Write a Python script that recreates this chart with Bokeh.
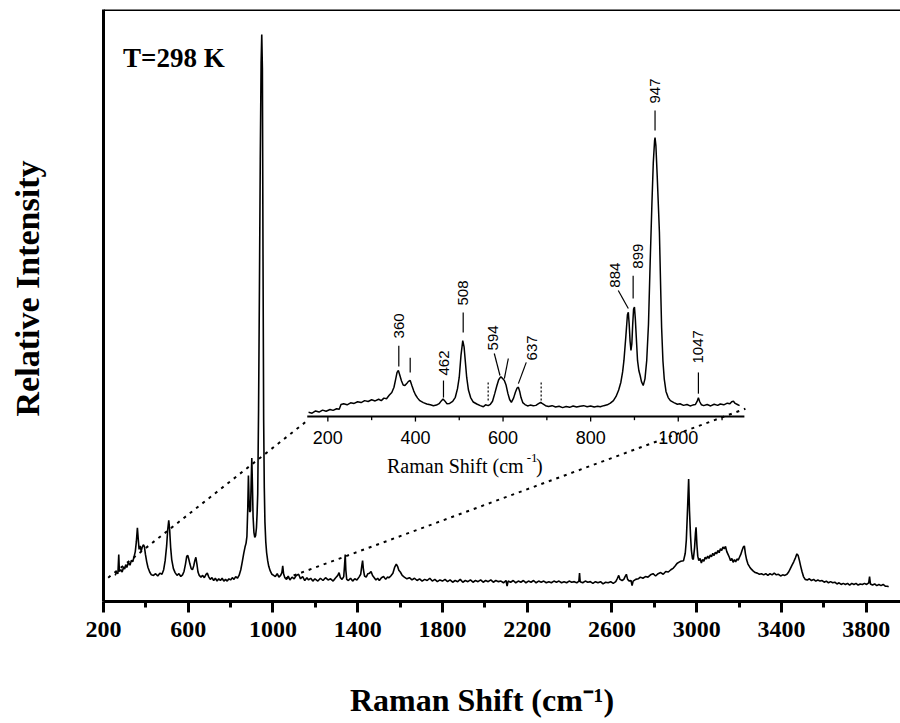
import math
from bokeh.plotting import figure
from bokeh.models import Range1d, FixedTicker, Span, Label
from bokeh.core.properties import value
from bokeh.embed import file_html
from bokeh.resources import INLINE

# ---------------- data ----------------
# main spectrum (Raman shift cm-1, relative intensity, strongest band = 100)
main_spectrum = [
    (255, 4.6), (262, 5.2), (268, 4.9), (272, 8.3), (275, 5.3), (282, 5.6), (288, 5.2), (295, 6.1),
    (300, 5.7), (305, 6.5), (310, 6.0), (318, 6.9), (325, 6.4), (332, 7.3), (338, 7.0), (345, 8.0),
    (350, 8.8), (355, 10.5), (360, 13.0), (364, 11.0), (368, 9.2), (373, 9.8), (378, 8.9), (383, 9.6),
    (388, 10.0), (393, 9.7), (398, 8.3), (404, 7.0), (410, 6.0), (418, 5.2), (426, 4.7), (436, 4.6),
    (446, 4.9), (456, 4.5), (466, 5.0), (476, 4.8), (484, 5.6), (491, 7.2), (498, 9.8), (503, 12.6),
    (508, 14.3), (512, 12.8), (517, 9.5), (522, 7.4), (530, 5.8), (538, 5.1), (547, 4.6), (556, 4.9),
    (565, 4.4), (573, 4.7), (580, 5.3), (587, 6.6), (593, 8.0), (598, 8.1), (603, 7.4), (608, 6.6),
    (614, 5.8), (620, 5.6), (626, 6.3), (631, 7.2), (636, 7.8), (641, 6.6), (646, 5.2), (652, 4.6),
    (660, 4.3), (668, 4.6), (676, 4.2), (684, 4.8), (690, 5.0), (696, 4.4), (704, 3.9), (712, 4.2),
    (720, 3.7), (728, 4.1), (736, 3.6), (744, 4.0), (752, 3.7), (760, 4.1), (768, 3.6), (776, 3.9),
    (784, 3.6), (792, 4.0), (800, 3.8), (808, 4.2), (816, 3.9), (824, 4.4), (832, 4.1), (840, 4.6),
    (848, 5.6), (855, 7.0), (862, 8.5), (868, 9.6), (873, 10.3), (877, 11.5), (881, 16.5), (884, 22.2),
    (887, 18.0), (890, 15.8), (894, 16.0), (897, 21.0), (900, 25.3), (903, 20.5), (906, 15.0),
    (910, 12.2), (914, 11.3), (918, 11.6), (922, 13.0), (925, 15.5), (928, 19.0), (932, 34.0),
    (936, 55.0), (940, 78.0), (944, 95.0), (947, 100.0), (950, 94.0), (953, 60.0), (956, 32.0),
    (959, 20.0), (962, 14.0), (966, 10.5), (970, 8.6), (975, 7.2), (980, 6.2), (987, 5.4), (995, 4.8),
    (1003, 4.6), (1011, 4.4), (1020, 4.9), (1028, 4.3), (1036, 4.6), (1042, 5.1), (1046, 6.3),
    (1050, 4.9), (1056, 4.2), (1064, 3.9), (1072, 4.5), (1080, 3.8), (1090, 4.3), (1100, 4.0),
    (1110, 4.6), (1121, 4.8), (1130, 4.0), (1140, 4.4), (1150, 3.7), (1160, 4.2), (1168, 3.8),
    (1178, 4.1), (1188, 3.6), (1198, 4.0), (1212, 3.6), (1224, 4.1), (1236, 3.7), (1248, 4.2),
    (1260, 3.8), (1272, 4.0), (1284, 3.6), (1296, 4.2), (1306, 4.6), (1312, 5.1), (1318, 4.2),
    (1326, 3.9), (1334, 4.4), (1338, 6.5), (1341, 8.3), (1344, 5.5), (1348, 3.9), (1356, 3.7),
    (1366, 4.1), (1376, 3.6), (1386, 4.0), (1396, 3.8), (1406, 4.3), (1414, 4.8), (1420, 6.5),
    (1423, 7.2), (1427, 5.6), (1432, 4.5), (1440, 4.3), (1448, 4.9), (1456, 5.0), (1463, 5.3),
    (1470, 4.6), (1478, 4.2), (1486, 3.8), (1494, 4.1), (1502, 3.7), (1512, 4.2), (1522, 4.4),
    (1532, 3.9), (1540, 4.3), (1548, 4.2), (1556, 4.5), (1566, 5.0), (1574, 6.0), (1582, 6.6),
    (1588, 6.2), (1594, 5.5), (1601, 5.2), (1610, 4.6), (1620, 4.3), (1632, 4.0), (1644, 4.2),
    (1656, 3.8), (1668, 4.1), (1680, 3.7), (1692, 4.0), (1704, 3.6), (1716, 3.9), (1728, 3.7),
    (1740, 4.1), (1752, 3.6), (1764, 3.9), (1776, 3.5), (1788, 3.8), (1800, 3.6), (1812, 3.9),
    (1824, 3.5), (1836, 3.8), (1848, 3.4), (1860, 3.7), (1872, 3.5), (1884, 3.9), (1896, 3.4),
    (1908, 3.7), (1920, 3.5), (1932, 3.8), (1944, 3.4), (1956, 3.7), (1968, 3.5), (1980, 3.8),
    (1992, 3.4), (2004, 3.7), (2016, 3.5), (2028, 3.8), (2040, 3.4), (2052, 3.7), (2064, 3.5),
    (2076, 3.6), (2088, 3.3), (2100, 3.7), (2105, 2.7), (2110, 3.6), (2122, 3.4), (2134, 3.7),
    (2146, 3.3), (2158, 3.6), (2170, 3.4), (2182, 3.7), (2194, 3.3), (2206, 3.6), (2218, 3.4),
    (2230, 3.7), (2242, 3.3), (2254, 3.6), (2266, 3.4), (2278, 3.6), (2290, 3.3), (2302, 3.5),
    (2314, 3.3), (2326, 3.6), (2338, 3.4), (2350, 3.6), (2362, 3.3), (2374, 3.5), (2386, 3.3),
    (2398, 3.6), (2410, 3.4), (2422, 3.5), (2434, 3.3), (2444, 3.6), (2447, 5.0), (2450, 3.5),
    (2462, 3.3), (2474, 3.6), (2486, 3.4), (2498, 3.5), (2510, 3.2), (2522, 3.5), (2534, 3.3),
    (2546, 3.5), (2558, 3.1), (2570, 3.4), (2582, 3.3), (2594, 3.5), (2606, 3.2), (2618, 3.5),
    (2626, 4.1), (2632, 4.6), (2638, 3.9), (2648, 3.7), (2656, 3.9), (2662, 4.4), (2668, 4.8),
    (2674, 3.9), (2682, 3.6), (2690, 3.7), (2695, 2.8), (2700, 3.6), (2712, 3.9), (2724, 4.0),
    (2734, 4.3), (2746, 4.1), (2758, 4.4), (2770, 4.3), (2782, 4.7), (2794, 4.9), (2806, 4.5),
    (2818, 4.9), (2830, 5.1), (2842, 4.8), (2854, 5.3), (2866, 5.2), (2878, 5.6), (2890, 5.9),
    (2899, 6.3), (2907, 6.7), (2915, 6.9), (2925, 7.1), (2938, 7.2), (2946, 8.5), (2951, 10.8),
    (2956, 15.5), (2962, 21.6), (2966, 16.0), (2971, 11.5), (2975, 9.0), (2980, 7.6), (2984, 7.4),
    (2990, 9.5), (2994, 12.0), (2997, 13.1), (3001, 10.0), (3005, 8.0), (3010, 7.2), (3016, 7.6),
    (3022, 6.8), (3028, 7.4), (3034, 7.1), (3040, 7.8), (3046, 7.5), (3052, 8.0), (3058, 7.6),
    (3064, 8.2), (3070, 7.9), (3076, 8.5), (3082, 8.1), (3088, 8.7), (3094, 8.4), (3100, 9.0),
    (3106, 8.6), (3112, 9.3), (3118, 9.0), (3124, 9.6), (3130, 9.3), (3136, 9.7), (3142, 8.8),
    (3148, 8.3), (3154, 7.8), (3160, 7.2), (3166, 7.6), (3172, 6.9), (3178, 7.4), (3184, 7.0),
    (3190, 7.5), (3196, 7.3), (3202, 7.8), (3208, 8.3), (3214, 9.0), (3220, 9.6), (3225, 9.8),
    (3230, 8.4), (3236, 7.3), (3242, 6.6), (3250, 6.1), (3258, 5.7), (3266, 5.4), (3276, 5.1),
    (3286, 5.0), (3296, 4.8), (3306, 4.9), (3316, 4.7), (3326, 4.9), (3336, 4.6), (3346, 4.9),
    (3356, 4.7), (3366, 5.0), (3376, 4.7), (3386, 4.8), (3396, 4.5), (3406, 4.7), (3416, 4.6),
    (3426, 4.8), (3434, 5.2), (3442, 5.8), (3450, 6.4), (3458, 7.0), (3466, 7.7), (3473, 8.4),
    (3479, 8.1), (3485, 7.2), (3491, 6.2), (3497, 5.3), (3504, 4.4), (3512, 3.9), (3522, 3.8),
    (3532, 4.0), (3542, 3.7), (3552, 3.9), (3562, 3.6), (3572, 3.8), (3582, 3.6), (3592, 3.7),
    (3602, 3.4), (3612, 3.6), (3622, 3.3), (3632, 3.5), (3642, 3.3), (3652, 3.4), (3662, 3.1),
    (3672, 3.3), (3682, 3.0), (3692, 3.2), (3702, 3.0), (3712, 3.2), (3722, 2.9), (3732, 3.2),
    (3742, 3.0), (3752, 3.2), (3762, 2.9), (3772, 3.1), (3782, 3.0), (3792, 3.2), (3802, 3.0),
    (3812, 3.3), (3816, 4.4), (3820, 3.1), (3830, 2.9), (3840, 3.1), (3850, 2.8), (3860, 3.0),
    (3870, 2.8), (3880, 3.0), (3890, 2.7), (3900, 2.7), (3906, 2.6),
]

# inset spectrum (150-1140 cm-1, strongest band = 100)
inset_spectrum = [
    (156, 1.5), (164, 1.2), (172, 2.0), (180, 1.6), (188, 2.3), (196, 1.9), (205, 2.5), (212, 2.2),
    (220, 2.8), (226, 2.6), (230, 4.3), (236, 4.6), (244, 4.2), (252, 4.9), (260, 4.7), (268, 5.3),
    (276, 5.0), (284, 5.7), (292, 5.4), (300, 6.0), (308, 5.6), (316, 6.2), (322, 5.7), (328, 6.6),
    (334, 6.4), (340, 7.6), (346, 8.6), (351, 10.5), (355, 13.5), (358, 15.8), (361, 16.5),
    (364, 15.0), (368, 12.8), (372, 11.3), (376, 11.1), (380, 11.8), (384, 12.6), (388, 12.9),
    (392, 11.0), (396, 9.2), (400, 7.8), (405, 6.6), (410, 5.7), (418, 5.0), (426, 4.5), (434, 4.2),
    (441, 3.9), (448, 4.1), (454, 4.6), (459, 5.6), (463, 6.3), (467, 5.6), (472, 4.6), (478, 4.7),
    (485, 5.4), (491, 6.9), (496, 10.0), (500, 14.1), (504, 22.0), (508, 27.2), (511, 25.0),
    (514, 19.5), (517, 14.0), (521, 9.5), (526, 6.8), (532, 5.2), (540, 4.5), (548, 3.9), (555, 3.5),
    (560, 4.2), (566, 3.9), (571, 4.4), (576, 5.5), (581, 8.2), (586, 11.1), (590, 13.2), (595, 14.3),
    (599, 13.6), (603, 12.9), (607, 11.2), (611, 8.3), (615, 6.1), (619, 5.1), (624, 6.6), (628, 8.6),
    (632, 10.2), (635, 10.5), (638, 9.0), (641, 6.8), (645, 5.0), (650, 4.3), (656, 3.8), (662, 4.1),
    (669, 3.9), (675, 4.0), (681, 4.6), (686, 5.1), (691, 4.5), (697, 3.9), (704, 3.6), (712, 3.9),
    (720, 3.4), (728, 3.7), (736, 3.2), (744, 3.6), (752, 3.3), (760, 3.8), (768, 3.4), (776, 3.7),
    (784, 3.9), (792, 3.5), (800, 3.8), (808, 3.4), (816, 3.7), (822, 3.5), (830, 3.9), (838, 4.2),
    (845, 4.8), (852, 5.7), (858, 7.2), (864, 9.5), (869, 12.3), (873, 16.0), (876, 20.1),
    (880, 28.0), (884, 36.5), (886, 37.4), (888, 33.0), (890, 27.0), (892, 23.7), (894, 26.0),
    (896, 33.0), (898, 38.5), (900, 39.2), (902, 35.0), (905, 26.0), (907, 20.1), (910, 16.5),
    (913, 14.7), (916, 12.5), (920, 11.1), (924, 13.5), (928, 20.1), (932, 33.0), (936, 55.9),
    (940, 77.0), (943, 91.0), (946, 99.0), (947, 100.0), (949, 97.0), (952, 86.0), (955, 74.0),
    (957, 66.0), (960, 45.0), (962, 31.9), (965, 20.0), (968, 13.5), (972, 9.0), (977, 6.8),
    (982, 5.7), (990, 5.0), (998, 4.4), (1004, 4.6), (1012, 4.0), (1020, 4.3), (1027, 3.8),
    (1033, 4.1), (1039, 4.3), (1043, 5.4), (1046, 6.7), (1049, 5.3), (1053, 4.2), (1058, 3.9),
    (1066, 4.3), (1074, 3.8), (1082, 4.4), (1090, 4.0), (1096, 4.5), (1104, 4.2), (1112, 4.8),
    (1118, 4.6), (1122, 5.3), (1126, 5.5), (1130, 4.7), (1135, 4.3), (1140, 3.9),
]

main_major_ticks = [200, 600, 1000, 1400, 1800, 2200, 2600, 3000, 3400, 3800]
main_minor_ticks = [400, 800, 1200, 1600, 2000, 2400, 2800, 3200, 3600]
inset_major_ticks = [200, 400, 600, 800, 1000]
inset_minor_ticks = [300, 500, 700, 900, 1100]

x_title = "Raman Shift (cm\u207b\u00b9)"
y_title = "Relative Intensity"

# inset peak labels: (text, x, y of label start)
peak_labels = ["360", "462", "508", "594", "637", "884", "899", "947", "1047"]
peak_label_x = [362, 465, 509, 577, 666, 856, 908, 947, 1045]
peak_label_y = [28.0, 14.7, 39.8, 23.7, 20.1, 46.2, 53.0, 112.2, 19.0]
# leader lines (x0, y0, x1, y1) in inset units
leader_x0 = [362, 388, 464, 509, 580, 612, 653, 863, 897, 947, 1046]
leader_y0 = [25.4, 21.1, 12.9, 37.3, 22.6, 20.8, 19.4, 45.2, 50.5, 109.7, 15.8]
leader_x1 = [362, 388, 464, 509, 593, 603, 635, 886, 897, 947, 1046]
leader_y1 = [17.9, 15.8, 6.8, 30.1, 14.7, 13.6, 11.8, 38.7, 42.3, 102.5, 8.2]
dotted_marks_x = [566, 687]
dotted_marks_top = [12.2, 12.2]
dotted_marks_bottom = [5.0, 4.7]

# zoom guide lines (main-plot units)
guide_x0 = [222, 1062]
guide_y0 = [4.2, 4.1]
guide_x1 = [1152, 3230]
guide_y1 = [31.6, 34.0]

main_x = [a for a, b in main_spectrum]
main_y = [b for a, b in main_spectrum]
inset_x = [a for a, b in inset_spectrum]
inset_y = [b for a, b in inset_spectrum]

# ---------------- figure ----------------
X0, X1 = 200, 3962
Y0, Y1 = 0, 104.4
p = figure(width=900, height=723, x_range=Range1d(X0, X1), y_range=Range1d(Y0, Y1),
           output_backend="svg", toolbar_location=None,
           min_border_left=103, min_border_right=0, min_border_top=9, min_border_bottom=122)
p.background_fill_color = "white"
p.border_fill_color = "white"
p.outline_line_color = None
p.xgrid.visible = False
p.ygrid.visible = False

# inset coordinate systems, mapped onto the same frame
p.extra_x_ranges = {"ix": Range1d(-312.2, 1507.4)}
p.extra_y_ranges = {"iy": Range1d(-66.3, 145.9)}

SERIF = "Liberation Serif"
SANS = "Liberation Sans"
NB = "\u00a0"

xa = p.xaxis[0]
xa.ticker = FixedTicker(ticks=main_major_ticks, minor_ticks=main_minor_ticks)
xa.axis_line_width = 3
xa.major_tick_line_width = 3
xa.minor_tick_line_width = 3
xa.major_tick_out = 11
xa.major_tick_in = 0
xa.minor_tick_out = 6
xa.minor_tick_in = 0
xa.major_label_text_font = SERIF
xa.major_label_text_font_style = "bold"
xa.major_label_text_font_size = "24px"
xa.major_label_text_color = "black"
xa.major_label_standoff = 9
xa.axis_label = x_title + NB * 5
xa.axis_label_text_font = SERIF
xa.axis_label_text_font_style = "bold"
xa.axis_label_text_font_size = "32px"
xa.axis_label_text_color = "black"
xa.axis_label_standoff = 42

ya = p.yaxis[0]
ya.ticker = FixedTicker(ticks=[])
ya.axis_line_width = 3
ya.major_tick_out = 0
ya.minor_tick_out = 0
ya.major_label_text_font_size = "0px"
ya.major_label_standoff = 0
ya.axis_label = NB * 4 + y_title
ya.axis_label_text_font = SERIF
ya.axis_label_text_font_style = "bold"
ya.axis_label_text_font_size = "34px"
ya.axis_label_text_color = "black"
ya.axis_label_standoff = 58

p.add_layout(Span(location=Y1, dimension="width", line_color="black", line_width=3))

# guide lines
p.segment(x0=guide_x0, y0=guide_y0, x1=guide_x1, y1=guide_y1, line_color="black",
          line_width=2, line_dash="3 5")

# main spectrum
p.line(main_x, main_y, line_color="black", line_width=1.6)

# inset
p.segment(x0=[inset_x[0] - 3], y0=[0], x1=[1151], y1=[0], line_color="black", line_width=2,
          x_range_name="ix", y_range_name="iy")
p.segment(x0=inset_major_ticks, y0=[0] * len(inset_major_ticks), x1=inset_major_ticks,
          y1=[-1.8] * len(inset_major_ticks), line_color="black", line_width=1.3,
          x_range_name="ix", y_range_name="iy")
p.segment(x0=inset_minor_ticks, y0=[0] * len(inset_minor_ticks), x1=inset_minor_ticks,
          y1=[-1.3] * len(inset_minor_ticks), line_color="black", line_width=1.3,
          x_range_name="ix", y_range_name="iy")
p.text(x=inset_major_ticks, y=[-7.5] * len(inset_major_ticks),
       text=[str(t) for t in inset_major_ticks], text_font=value(SANS), text_font_size="18px",
       text_align="center", text_baseline="alphabetic", text_color="black",
       x_range_name="ix", y_range_name="iy")
p.line(inset_x, inset_y, line_color="black", line_width=1.5, x_range_name="ix", y_range_name="iy")
p.segment(x0=leader_x0, y0=leader_y0, x1=leader_x1, y1=leader_y1, line_color="black",
          line_width=1.2, x_range_name="ix", y_range_name="iy")
p.segment(x0=dotted_marks_x, y0=dotted_marks_top, x1=dotted_marks_x, y1=dotted_marks_bottom,
          line_color="black", line_width=1.2, line_dash="2 2", x_range_name="ix", y_range_name="iy")
p.text(x=peak_label_x, y=peak_label_y, text=peak_labels, angle=math.pi / 2,
       text_font=value(SANS), text_font_size="15px", text_align="left", text_baseline="middle",
       text_color="black", x_range_name="ix", y_range_name="iy")

# inset axis title
p.text(x=[335], y=[-17.6], text=["Raman Shift (cm"], text_font=value(SERIF), text_font_size="20px",
       text_align="left", text_baseline="alphabetic", text_color="black",
       x_range_name="ix", y_range_name="iy")
p.text(x=[654], y=[-15.0], text=["-1"], text_font=value(SERIF), text_font_size="13px",
       text_align="left", text_baseline="alphabetic", text_color="black",
       x_range_name="ix", y_range_name="iy")
p.text(x=[675], y=[-17.6], text=[")"], text_font=value(SERIF), text_font_size="20px",
       text_align="left", text_baseline="alphabetic", text_color="black",
       x_range_name="ix", y_range_name="iy")

# temperature note
p.add_layout(Label(x=292, y=95.8, text="T=298 K", text_font=SERIF, text_font_style="bold",
                   text_font_size="27px", text_color="black", text_baseline="alphabetic"))

open("out.html", "w").write(file_html(p, INLINE))
